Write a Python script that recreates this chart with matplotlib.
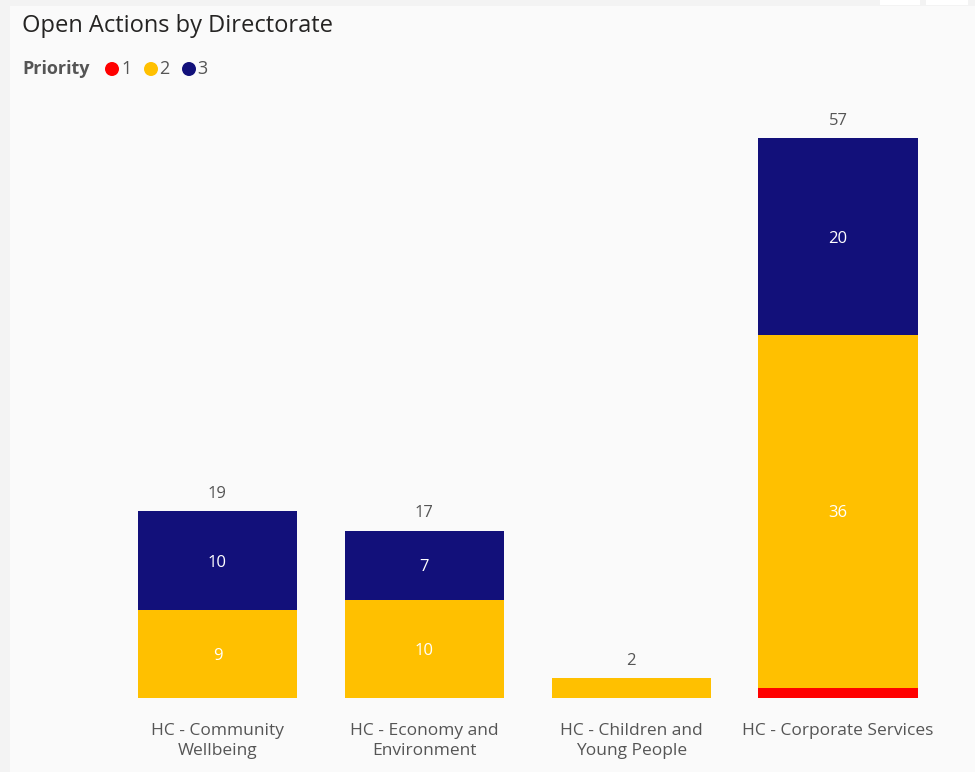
'''
Open actions by directorate, stacked by priority.
'''

import numpy as np
import matplotlib as mpl
from matplotlib import pyplot as plt
from matplotlib.patches import Rectangle, Ellipse

mpl.rcParams['font.family'] = ['Open Sans', 'DejaVu Sans']


directorates  = ['HC - Community\nWellbeing', 'HC - Economy and\nEnvironment',
                 'HC - Children and\nYoung People', 'HC - Corporate Services']
priorities    = ['1', '2', '3']
p1            = [0, 0, 0, 1]
p2            = [9, 10, 2, 36]
p3            = [10, 7, 0, 20]
colors        = ['#FF0000', '#FFC000', '#12107A']


W,H = 975, 772
fig = plt.figure(figsize=(W/100, H/100), dpi=100)
fig.patch.set_facecolor('#f3f3f3')
# visual panel (behind everything)
for (x0,y0,w,h,c) in [(10, 0, W-10, H-6, '#fafafa'), (880, H-5, 40, 5, 'white'), (926, H-5, 42, 5, 'white')]:
	fig.patches.append( Rectangle((x0/W, y0/H), w/W, h/H, transform=fig.transFigure,
	                              facecolor=c, edgecolor='none', zorder=-10) )

# axes: bar centers at 217.5 ... 838 px, baseline at y=698 px
left, right   = 114, 941.5
bottom, top   = H-698, H-109
ax = fig.add_axes([left/W, bottom/H, (right-left)/W, (top-bottom)/H])
ax.set_facecolor('none')
ax.set_xlim(-0.5, 3.5)
ax.set_ylim(0, 60)

x       = np.arange(len(directorates))
series  = [np.array(p1), np.array(p2), np.array(p3)]
base    = np.zeros(len(x))
for s,c in zip(series, colors):
	ax.bar(x, s, width=0.77, bottom=base, color=c, edgecolor='none')
	for xi,(b,v) in enumerate(zip(base, s)):
		if v >= 3:
			ax.text(xi, b + v/2, str(v), ha='center', va='center_baseline', color='white', fontsize=12)
	base = base + s

for xi,t in enumerate(base):
	ax.annotate(str(int(t)), (xi, t), xytext=(0, 7), textcoords='offset points',
	            ha='center', va='bottom', color='#555555', fontsize=12)

ax.set_xticks(x)
ax.set_xticklabels(directorates, color='#555555', fontsize=12.5, linespacing=1.3)
ax.tick_params(axis='x', length=0, pad=18)
ax.set_yticks([])
for sp in ax.spines.values():
	sp.set_visible(False)

# title and legend
fig.text(22/W, 1-26/H, 'Open Actions by Directorate', ha='left', va='center',
         fontsize=17, fontweight='medium', color='#252423')
fig.text(22/W, 1-69/H, 'Priority', ha='left', va='center', fontsize=13,
         fontweight='bold', color='#555555')
for cx,tx,c,lab in zip([112, 151, 189], [121, 159, 197], colors, priorities):
	fig.patches.append( Ellipse((cx/W, 1-69/H), 14/W, 14/H, transform=fig.transFigure,
	                            facecolor=c, edgecolor='none') )
	fig.text(tx/W, 1-69/H, lab, ha='left', va='center', fontsize=13, color='#555555')

plt.savefig('out.png', dpi=100, facecolor=fig.get_facecolor())
